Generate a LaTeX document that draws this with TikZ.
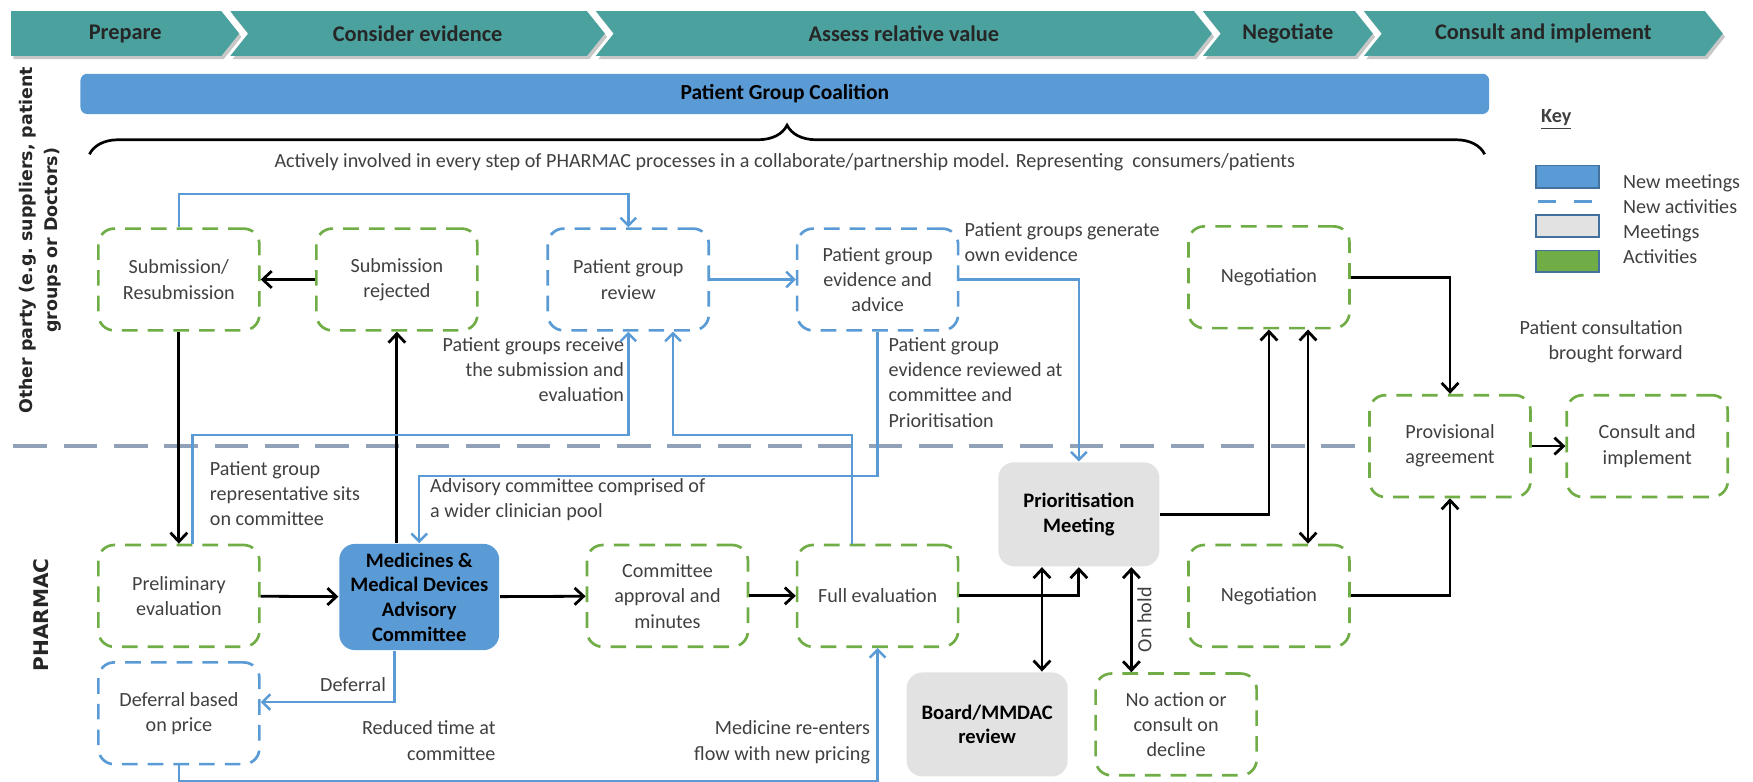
\documentclass[tikz,border=0pt]{standalone}
\usepackage{fontspec}
\setmainfont{Carlito}
\newfontfamily\sidefont{DejaVu Sans}
\usetikzlibrary{arrows.meta,positioning,decorations.pathreplacing}

\definecolor{phasecol}{RGB}{75,161,158}
\definecolor{newblue}{RGB}{91,155,213}
\definecolor{actgreen}{RGB}{112,173,71}
\definecolor{meetgrey}{RGB}{226,226,226}
\definecolor{sepblue}{RGB}{132,151,176}
\definecolor{txt}{RGB}{64,64,64}
\definecolor{keyblue}{RGB}{65,113,156}

\begin{document}
\begin{tikzpicture}[x=0.5pt, y=-0.5pt, thick,
  box/.style = {rounded corners=7pt, minimum width=72pt, minimum height=45.5pt, align=center, inner sep=2pt, text=txt, font=\fontsize{9}{11.3}\selectfont},
  act/.style = {box, draw=actgreen, line width=1.2pt, dash pattern=on 7pt off 4.5pt},
  newact/.style = {act, draw=newblue},
  meet/.style = {box, fill=meetgrey, minimum height=46.5pt, text=black, font=\fontsize{9.2}{11}\selectfont\bfseries},
  newmeet/.style = {meet, fill=newblue, minimum width=71.5pt, minimum height=47.5pt},
  note/.style = {inner sep=0pt, text=txt, font=\fontsize{9}{11.3}\selectfont},
  flow/.style = {line width=1.25pt, -{Straight Barb[length=4pt,width=7.5pt]}},
  dflow/.style = {flow, {Straight Barb[length=4pt,width=7.5pt]}-{Straight Barb[length=4pt,width=7.5pt]}},
  pg/.style = {draw=newblue, line width=1.1pt, -{Straight Barb[length=3.5pt,width=7pt]}},
  side/.style = {rotate=90, align=center, text=black!85, font=\sidefont\bfseries\fontsize{7.8}{11}\selectfont}]
\useasboundingbox (0,0) rectangle (1568,699);

% phases
\foreach \a/\b/\n/\t [count=\i] in {10/198/0/Prepare, 206/525/16/Consider evidence, 533/1068/16/Assess relative value, 1076/1212/16/Negotiate, 1220/1525/16/Consult and implement} {
  \fill[black!22] ({\a+2},13) -- ({\b+2},13) -- ({\b+18},33) -- ({\b+2},53) -- ({\a+2},53) -- ({\a+\n+2},33) -- cycle;
  \fill[phasecol] (\a,10) -- (\b,10) -- ({\b+16},30) -- (\b,50) -- (\a,50) -- ({\a+\n},30) -- cycle;
  \node[font=\fontsize{10}{12}\selectfont\bfseries, text=black!85] (ph\i) at ({(\a+\b)/2+8},30) {\t};
}

\node[fill=newblue, rounded corners=3pt, minimum width=630pt, minimum height=18pt, font=\fontsize{9.6}{11}\selectfont\bfseries] (coal) at (702,84) {Patient Group Coalition};
\draw[line width=1.2pt, decorate, decoration={brace, amplitude=13pt}] (80,138) -- (1328,138);
\node[note] (involved) at (702,145) {Actively involved in every step of PHARMAC processes in a collaborate/partnership model. Representing\ \ consumers/patients};

\node[side] (other) at (36,215) {Other party (e.g.\ suppliers, patient\\groups or Doctors)};
\node[side, font=\sidefont\bfseries\fontsize{9}{11}\selectfont] (pharmac) at (37,550) {PHARMAC};

% boxes
\node[act] (sub) at (160,250) {Submission/\\Resubmission};
\node[act] (rej) at (355,250) {Submission\\rejected};
\node[newact] (pgr) at (562,250) {Patient group\\review};
\node[newact] (pge) at (785,250) {Patient group\\evidence and\\advice};
\node[act] (negt) at (1135,248) {Negotiation};
\node[act] (prov) at (1297,399) {Provisional\\agreement};
\node[act] (cons) [right=15pt of prov] {Consult and\\implement};
\node[act] (prelim) at (160,533) {Preliminary\\evaluation};
\node[newmeet] (mmdac) at (375,534) {Medicines \&\\Medical Devices\\Advisory\\Committee};
\node[act] (cam) at (597,533) {Committee\\approval and\\minutes};
\node[act] (full) at (785,533) {Full evaluation};
\node[meet] (prio) at (965,460) {Prioritisation\\Meeting};
\node[act] (negb) at (1135,533) {Negotiation};
\node[newact] (defer) at (160,638) {Deferral based\\on price};
\node[meet] (board) at (883,648) {Board/MMDAC\\review};
\node[act] (noact) at (1052,648) {No action or\\consult on\\decline};

% key
\node[font=\fontsize{9}{11}\selectfont\bfseries, text=txt] (key) at (1392,107) {\underline{Key}};
\filldraw[fill=newblue, draw=keyblue, line width=0.8pt] (1374,148) rectangle (1430,168);
\draw[newblue, line width=1.5pt, dash pattern=on 8pt off 8pt] (1376,180) -- (1430,180);
\filldraw[fill=meetgrey, draw=keyblue, line width=0.8pt] (1374,192) rectangle (1430,212);
\filldraw[fill=actgreen, draw=keyblue, line width=0.8pt] (1374,224) rectangle (1430,243);
\node[note, anchor=north west, align=left] (keytext) at (1451,155) {New meetings\\New activities\\Meetings\\Activities};

\draw[sepblue!90, line width=1.6pt, dash pattern=on 15pt off 7.5pt] (12,399) -- (prov.west);

% labels
\node[note, anchor=north west, align=left] (gen) at (862,198) {Patient groups generate\\own evidence};
\node[note, anchor=north west, align=left] (revd) at (794,301) {Patient group\\evidence reviewed at\\committee and\\Prioritisation};
\node[note, anchor=north east, align=right] (recv) at (559,301) {Patient groups receive\\the submission and\\evaluation};
\node[note, anchor=north west, align=left] (rep) at (187,412) {Patient group\\representative sits\\on committee};
\node[note, anchor=north west, align=left] (pool) at (384,427) {Advisory committee comprised of\\a wider clinician pool};
\node[note, anchor=east] (deflbl) at (346,612) {Deferral};
\node[note, anchor=north east, align=right] (reduced) at (444,644) {Reduced time at\\committee};
\node[note, anchor=north east, align=right] (reenter) at (779,644) {Medicine re-enters\\flow with new pricing};
\node[note, anchor=north east, align=right] (fwd) at (1506,286) {Patient consultation\\brought forward};

% black flow
\coordinate (bx) at (932,0);
\coordinate (hx) at (1012,0);
\coordinate (nx) at (1170,0);
\draw[flow] (rej) -- (sub);
\draw[flow] (sub) -- (prelim);
\draw[flow] (mmdac.north -| rej.south) -- (rej.south);
\draw[flow] (prelim) -- (mmdac);
\draw[flow] (mmdac) -- (cam);
\draw[flow] (cam) -- (full);
\draw[flow] (full) -| (prio.south);
\draw[dflow] (bx |- board.north) -- (bx |- prio.south);
\draw[dflow] (hx |- noact.north) -- node[note, midway, rotate=90, anchor=north, inner sep=2pt] (hold) {On hold} (hx |- prio.south);
\draw[flow] (prio.east) -| (negt.south);
\draw[dflow] (nx |- negt.south) -- (nx |- negb.north);
\draw[flow] (negt.east) -| (prov.north);
\draw[flow] (negb.east) -| (prov.south);
\draw[flow] (prov) -- (cons);

% patient group flow
\draw[pg] (sub.north) -- ++(0,-30) -| (pgr.north);
\draw[pg] (pgr) -- (pge);
\draw[pg] (pge.east) -| (prio.north);
\draw[pg] (pge.south) -- ++(0,129) -| (mmdac.north);
\draw[pg] ([xshift=6pt]prelim.north) -- ++(0,-97) -| (pgr.south);
\draw[pg] ([xshift=-11.5pt]full.north) -- ++(0,-97) -| ([xshift=20pt]pgr.south);
\draw[pg] ([xshift=-11pt]mmdac.south) |- ([yshift=5pt]defer.east);
\draw[pg] (defer.south) -- ++(0,14) -| (full.south);
\end{tikzpicture}
\end{document}
